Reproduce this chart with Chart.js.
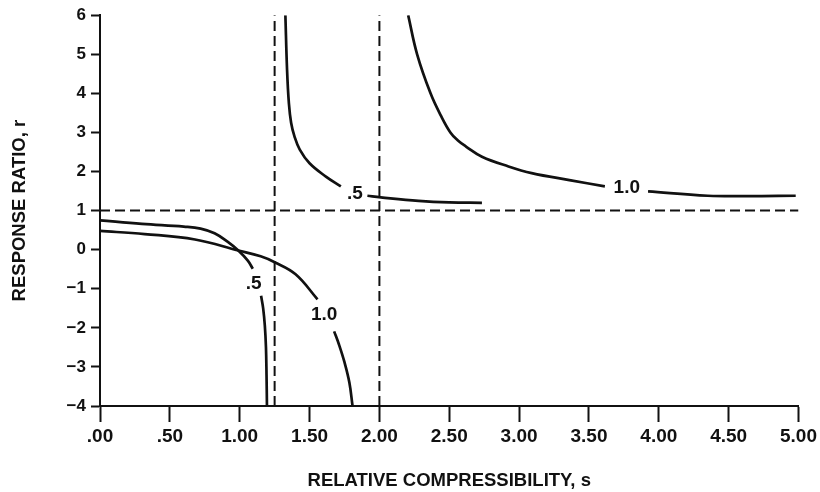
<!DOCTYPE html>
<html>
<head>
<meta charset="utf-8">
<script src="https://cdn.jsdelivr.net/npm/chart.js@4.4.1/dist/chart.umd.min.js"></script>
<style>
  html, body { margin: 0; padding: 0; background: #fff; }
  #wrap { width: 820px; height: 492px; }
</style>
</head>
<body>
<div id="wrap"><canvas id="ratioChart" width="820" height="492"></canvas></div>
<script>
const FONT = '"Liberation Sans", Arial, Helvetica, sans-serif';
const INK = '#111';

// axis ticks
const xTickLabels = ['.00', '.50', '1.00', '1.50', '2.00', '2.50', '3.00', '3.50', '4.00', '4.50', '5.00'];
const yTickLabels = ['\u22124', '\u22123', '\u22122', '\u22121', '0', '1', '2', '3', '4', '5', '6'];

// curve .5 — lower branch, split where the label sits
const halfLowS = [0.00, 0.30, 0.60, 0.72, 0.82, 0.915, 0.99, 1.058, 1.094];
const halfLowR = [0.75, 0.66, 0.59, 0.54, 0.42, 0.20, -0.02, -0.28, -0.49];
const halfDropS = [1.153, 1.168, 1.180, 1.188, 1.192, 1.195];
const halfDropR = [-1.18, -1.50, -1.95, -2.50, -3.20, -3.98];
// curve .5 — upper branch
const halfHighS = [1.327, 1.339, 1.352, 1.368, 1.392, 1.43, 1.50, 1.617, 1.724];
const halfHighR = [6.0, 4.60, 3.75, 3.25, 2.90, 2.56, 2.21, 1.87, 1.62];
const halfTailS = [1.914, 2.01, 2.28, 2.50, 2.734];
const halfTailR = [1.38, 1.34, 1.25, 1.21, 1.20];

// curve 1.0 — lower branch
const oneLowS = [0.00, 0.32, 0.68, 0.99, 1.15, 1.25, 1.40, 1.557];
const oneLowR = [0.48, 0.40, 0.26, -0.02, -0.17, -0.32, -0.63, -1.27];
const oneDropS = [1.676, 1.710, 1.750, 1.785, 1.807];
const oneDropR = [-2.09, -2.42, -2.88, -3.40, -3.98];
// curve 1.0 — upper branch
const oneHighS = [2.206, 2.270, 2.366, 2.44, 2.508, 2.56, 2.62, 2.734, 2.924, 3.09, 3.36, 3.614];
const oneHighR = [6.0, 5.00, 4.00, 3.43, 3.00, 2.80, 2.64, 2.38, 2.13, 1.96, 1.78, 1.62];
const oneTailS = [3.923, 4.351, 4.64, 4.98];
const oneTailR = [1.49, 1.38, 1.37, 1.38];

// asymptotes
const asymptoteS = [1.25, 2.00];
const unitRatio = 1;

// curve labels
const curveLabels = ['.5', '1.0', '.5', '1.0'];
const labelS = [1.10, 1.605, 1.824, 3.771];
const labelR = [-0.87, -1.67, 1.43, 1.58];

function curve(sVals, rVals) {
    return {
        data: sVals.map((s, i) => ({ x: s, y: rVals[i] })),
        borderColor: INK,
        borderWidth: 2.7,
        pointRadius: 0,
        tension: 0.4,
        fill: false
    };
}

function dashed(points) {
    return {
        data: points,
        borderColor: INK,
        borderWidth: 2,
        borderDash: [10, 5],
        pointRadius: 0,
        tension: 0,
        fill: false
    };
}

const guides = [
    dashed([{ x: 0, y: unitRatio }, { x: 5, y: unitRatio }]),
    ...asymptoteS.map(s => dashed([{ x: s, y: -4 }, { x: s, y: 6 }]))
];

const curveText = {
    id: 'curveText',
    afterDatasetsDraw(chart) {
        const { ctx, scales: { x, y } } = chart;
        ctx.save();
        ctx.fillStyle = INK;
        ctx.font = `bold 19px ${FONT}`;
        ctx.textAlign = 'center';
        ctx.textBaseline = 'middle';
        curveLabels.forEach((t, i) => {
            ctx.fillText(t, x.getPixelForValue(labelS[i]), y.getPixelForValue(labelR[i]));
        });
        ctx.restore();
    }
};

new Chart(document.getElementById('ratioChart'), {
    type: 'line',
    data: {
        datasets: [
            ...guides,
            curve(halfLowS, halfLowR),
            curve(halfDropS, halfDropR),
            curve(halfHighS, halfHighR),
            curve(halfTailS, halfTailR),
            curve(oneLowS, oneLowR),
            curve(oneDropS, oneDropR),
            curve(oneHighS, oneHighR),
            curve(oneTailS, oneTailR)
        ]
    },
    options: {
        responsive: false,
        animation: false,
        events: [],
        layout: { padding: { top: 10, right: 19, left: 0, bottom: 0 } },
        plugins: {
            legend: { display: false },
            tooltip: { enabled: false }
        },
        scales: {
            x: {
                type: 'linear',
                min: 0,
                max: 5,
                afterFit: s => { s.height = 86; },
                border: { display: true, color: INK, width: 2 },
                grid: { drawOnChartArea: false, drawTicks: true, tickLength: 16, tickWidth: 2, tickColor: INK },
                ticks: {
                    stepSize: 0.5,
                    autoSkip: false,
                    maxRotation: 0,
                    padding: 3,
                    color: INK,
                    font: { family: FONT, size: 19, weight: 'bold' },
                    callback: (v, i) => xTickLabels[i]
                },
                title: {
                    display: true,
                    text: 'RELATIVE COMPRESSIBILITY, s',
                    color: INK,
                    font: { family: FONT, size: 18.5, weight: 'bold' },
                    padding: { top: 0, bottom: 0 }
                }
            },
            y: {
                type: 'linear',
                min: -4,
                max: 6,
                afterFit: s => { s.width = 100; },
                border: { display: true, color: INK, width: 2 },
                grid: { drawOnChartArea: false, drawTicks: true, tickLength: 9, tickWidth: 2, tickColor: INK },
                ticks: {
                    stepSize: 1,
                    padding: 5,
                    color: INK,
                    font: { family: FONT, size: 17, weight: 'bold' },
                    callback: (v, i) => yTickLabels[i]
                },
                title: {
                    display: true,
                    text: 'RESPONSE RATIO, r',
                    color: INK,
                    font: { family: FONT, size: 18.5, weight: 'bold' },
                    padding: { top: 9, bottom: 0 }
                }
            }
        }
    },
    plugins: [curveText]
});
</script>
</body>
</html>
